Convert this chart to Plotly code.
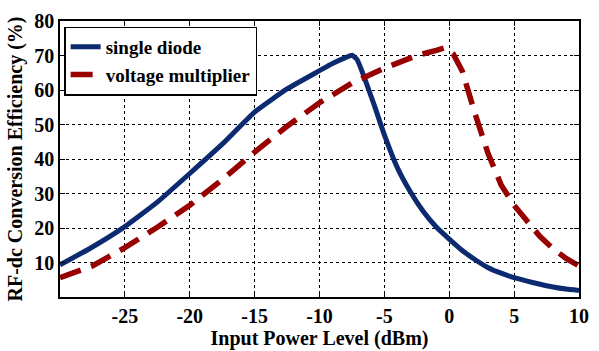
import plotly.graph_objects as go

# Single diode series
sd_x = [-30, -27.5, -25, -22.5, -20, -17.5, -15, -12.5, -10, -9, -8, -7.5, -7.1, -6.65, -6.2, -5.76, -5, -4, -3, -2, -1, 0, 1, 2, 3, 4, 5, 6, 7, 8, 9, 10]
sd_y = [9.3, 14.5, 20.4, 27.5, 35.8, 44.3, 53.6, 60.3, 65.6, 67.7, 69.4, 70.1, 68.8, 64.7, 60, 55.4, 47, 37.5, 30.5, 24.8, 20.3, 16.8, 13.5, 10.8, 8.5, 6.9, 5.6, 4.6, 3.7, 2.9, 2.3, 1.9]

# Voltage multiplier series
vm_x = [-30, -27.5, -25, -22.5, -20, -17.5, -15, -12.5, -10, -7.5, -5, -2.5, -1, -0.3, 0.3, 1, 2, 3, 4, 5, 6, 7, 8, 9, 10]
vm_y = [5.6, 9, 14.3, 20.2, 26.6, 34, 42, 49.5, 56.3, 62, 66.3, 70, 71.5, 72.3, 70.5, 65.5, 53, 41.5, 32.5, 26.6, 22, 17.5, 14, 11.2, 9]

x_ticks = [-25, -20, -15, -10, -5, 0, 5, 10]
x_labels = ["-25", "-20", "-15", "-10", "-5", "0", "5", "10"]
y_ticks = [10, 20, 30, 40, 50, 60, 70, 80]

FAM = "Times New Roman, Liberation Serif, serif"
font = dict(family=FAM, size=20, color="black", weight="bold")
legend_font = dict(family=FAM, size=19, color="black", weight="bold")

fig = go.Figure()
fig.add_trace(go.Scatter(x=sd_x, y=sd_y, mode="lines", name="single diode",
                         line=dict(color="#0b2a6f", width=5, shape="spline", smoothing=0.4)))
fig.add_trace(go.Scatter(x=vm_x, y=vm_y, mode="lines", name="voltage multiplier",
                         line=dict(color="#990000", width=5.5, dash="22px,11px")))

axis_common = dict(showline=True, linecolor="black", linewidth=1.5, mirror="ticks",
                   ticks="inside", ticklen=5, tickcolor="black", tickwidth=1,
                   showgrid=True, gridcolor="black", gridwidth=1, griddash="dot",
                   zeroline=False, tickfont=font)

fig.update_layout(
    width=599, height=351,
    margin=dict(l=60, r=10, t=18, b=45),
    paper_bgcolor="white", plot_bgcolor="white",
    font=font,
    xaxis=dict(range=[-30, 10], tickvals=x_ticks, ticktext=x_labels,
               title=dict(text="Input Power Level (dBm)", font=font, standoff=0),
               **axis_common),
    yaxis=dict(range=[0, 80], tickvals=y_ticks,
               title=dict(text="RF-dc Conversion Efficiency (%)", font=font, standoff=6),
               **axis_common),
    legend=dict(x=0.008, y=0.98, xanchor="left", yanchor="top",
                bgcolor="white", bordercolor="black", borderwidth=1.5,
                font=legend_font, tracegroupgap=0, itemwidth=30),
    showlegend=True,
)

fig.write_html("out.html")
